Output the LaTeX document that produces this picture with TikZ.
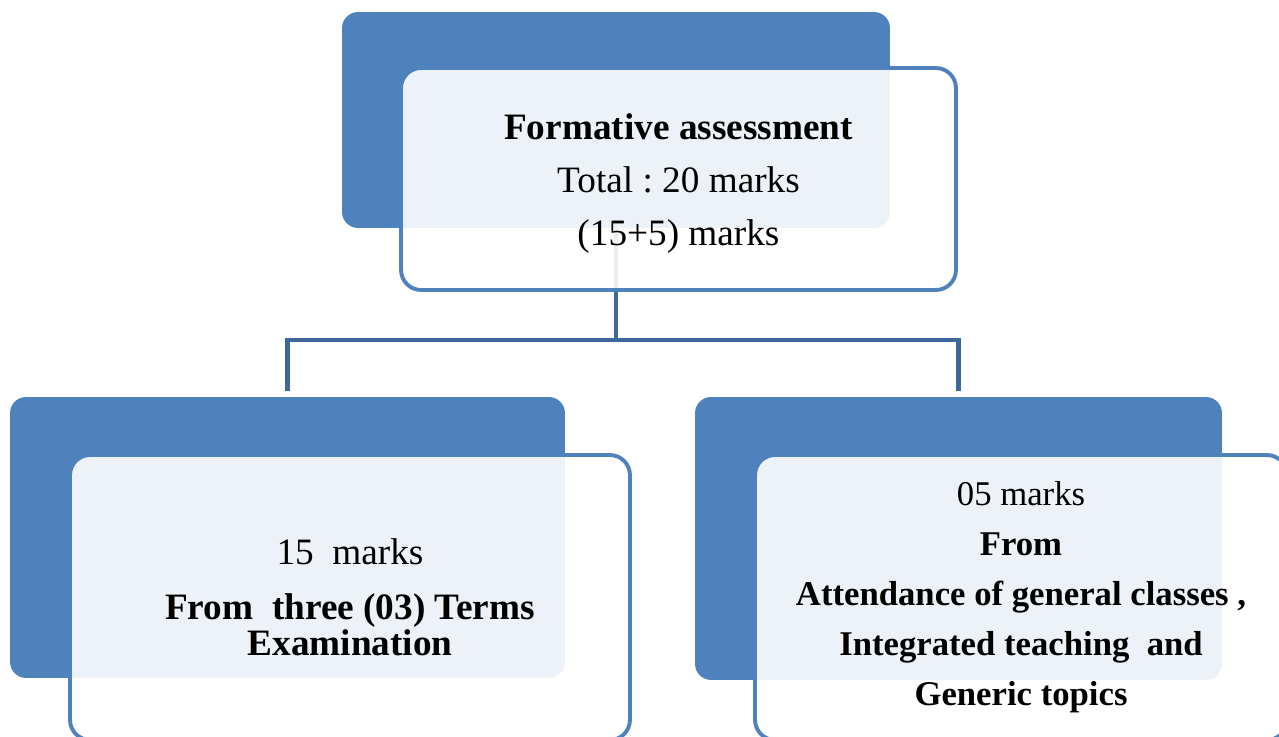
\documentclass[tikz,border=0pt]{standalone}
\usepackage{fontspec}
\setmainfont{Liberation Serif}
\frenchspacing

\definecolor{boxblue}{RGB}{79,129,189}
\definecolor{linkblue}{RGB}{62,103,156}

\tikzset{
  backbox/.style={fill=boxblue, rounded corners=0.32cm, inner sep=0pt},
  frontbox/.style={draw=boxblue, line width=2.2pt, fill=white, fill opacity=0.9,
    text opacity=1, rounded corners=0.4cm, align=center, inner sep=0pt,
    font=\fontsize{21.2}{30}\selectfont},
  link/.style={draw=linkblue, line width=2.6pt}
}

\begin{document}
\begin{tikzpicture}[x=0.02cm, y=-0.02cm]
  \useasboundingbox (0,0) rectangle (1279,737);

  % dark panels behind
  \foreach \name/\cx/\cy/\w/\h in {topback/616/120/10.96/4.32,
      leftback/287.5/537.5/11.1/5.62, rightback/958.5/538.5/10.54/5.66}
    \node[backbox, minimum width=\w cm, minimum height=\h cm] (\name) at (\cx,\cy) {};

  % tree lines
  \coordinate (split) at (616,340);
  \draw[link] (topback.south) -- (split);
  \draw[link, shorten >=0.12cm] (split) -| (leftback.north);
  \draw[link, shorten >=0.12cm] (split) -| (rightback.north);

  % light panels with the text
  \node[frontbox, minimum width=11.1cm, minimum height=4.44cm] (topfront) at (678.5,179)
    {\rule{0pt}{20pt}\textbf{Formative assessment}\\Total : 20 marks\\(15+5) marks};
  \node[frontbox, minimum width=11.2cm, minimum height=5.7cm] (leftfront) at (350,597.5)
    {15~~marks\\[1pt]\textbf{From~~three (03) Terms}\\[-9pt]\textbf{Examination}};
  \node[frontbox, minimum width=10.64cm, minimum height=5.7cm,
    font=\fontsize{19.75}{28.5}\selectfont] (rightfront) at (1021,597.5)
    {05 marks\\\textbf{From}\\\textbf{Attendance of general classes ,}\\
     \textbf{Integrated teaching~~and}\\\textbf{Generic topics}};
\end{tikzpicture}
\end{document}
